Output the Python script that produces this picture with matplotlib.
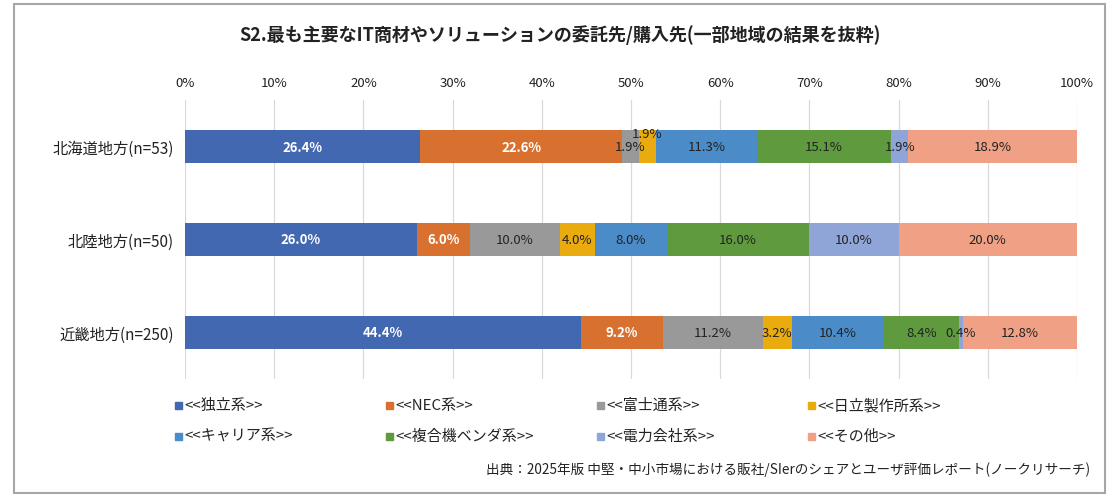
import matplotlib
matplotlib.use("Agg")
import matplotlib.pyplot as plt
from matplotlib.patches import Rectangle
import numpy as np

plt.rcParams['font.family'] = ['Noto Sans CJK JP', 'DejaVu Sans']

regions = ["北海道地方(n=53)", "北陸地方(n=50)", "近畿地方(n=250)"]
series = ["<<独立系>>", "<<NEC系>>", "<<富士通系>>", "<<日立製作所系>>",
          "<<キャリア系>>", "<<複合機ベンダ系>>", "<<電力会社系>>", "<<その他>>"]
# rows: regions, cols: series (%)
values = np.array([
    [26.4, 22.6, 1.9, 1.9, 11.3, 15.1, 1.9, 18.9],
    [26.0, 6.0, 10.0, 4.0, 8.0, 16.0, 10.0, 20.0],
    [44.4, 9.2, 11.2, 3.2, 10.4, 8.4, 0.4, 12.8],
])
colors = ["#4268B1", "#D8712F", "#999999", "#E9AB0E",
          "#4A8BC8", "#5F9B3E", "#8FA5D7", "#F0A185"]
label_colors = ["white", "white", "#222222", "#222222",
                "#222222", "#222222", "#222222", "#222222"]

title = "S2.最も主要なIT商材やソリューションの委託先/購入先(一部地域の結果を抜粋)"
source = "出典：2025年版 中堅・中小市場における販社/SIerのシェアとユーザ評価レポート(ノークリサーチ)"

W, H = 1120, 502
fig = plt.figure(figsize=(W / 100, H / 100), dpi=100)
ax = fig.add_axes([185 / W, 1 - 380 / H, (1077 - 185) / W, (380 - 101) / H])

y = np.arange(len(regions))
left = np.zeros(len(regions))
for j, name in enumerate(series):
    ax.barh(y, values[:, j], left=left, height=0.35, color=colors[j], label=name)
    for i in range(len(regions)):
        v = values[i, j]
        dy = 0.0
        # two tiny neighbouring segments: lift the second label like Excel does
        if j > 0 and v < 2.5 and values[i, j - 1] < 2.5:
            dy = -0.14
        ax.text(left[i] + v / 2, y[i] + dy, f"{v:.1f}%", ha="center", va="center",
                fontsize=9.5, color=label_colors[j],
                fontweight="bold" if j < 2 else "normal")
    left += values[:, j]

ax.set_xlim(0, 100)
ax.set_ylim(2.5, -0.5)
ax.set_xticks(np.arange(0, 101, 10))
ax.set_xticklabels([f"{t}%" for t in range(0, 101, 10)], fontsize=9.5, color="#222222")
ax.xaxis.tick_top()
ax.tick_params(axis="x", length=0, pad=8)
ax.set_yticks(y)
ax.set_yticklabels(regions, fontsize=11, color="#222222")
ax.tick_params(axis="y", length=0, pad=8)
ax.grid(axis="x", color="#D9D9D9", linewidth=0.9)
ax.set_axisbelow(True)
for s in ax.spines.values():
    s.set_visible(False)

fig.text(560 / W, 1 - 35 / H, title, ha="center", va="center",
         fontsize=13, fontweight="bold", color="#222222")

# legend (4 columns x 2 rows)
for k, name in enumerate(series):
    col, row = k % 4, k // 4
    x0 = (175 + col * 211) / W
    y0 = 1 - (406 + row * 31) / H
    fig.patches.append(Rectangle((x0, y0 - 3.5 / H), 7 / W, 7 / H,
                                 transform=fig.transFigure, color=colors[k]))
    fig.text(x0 + 9 / W, y0, name, ha="left", va="center", fontsize=10.8, color="#222222")

fig.text(1090 / W, 1 - 470 / H, source, ha="right", va="center",
         fontsize=9.8, color="#222222")

fig.patches.append(Rectangle((14 / W, 1 - 494 / H), (1105 - 14) / W, (494 - 5) / H,
                             transform=fig.transFigure, fill=False,
                             edgecolor="#A6A6A6", linewidth=1.5))

fig.savefig("out.png", dpi=100)
